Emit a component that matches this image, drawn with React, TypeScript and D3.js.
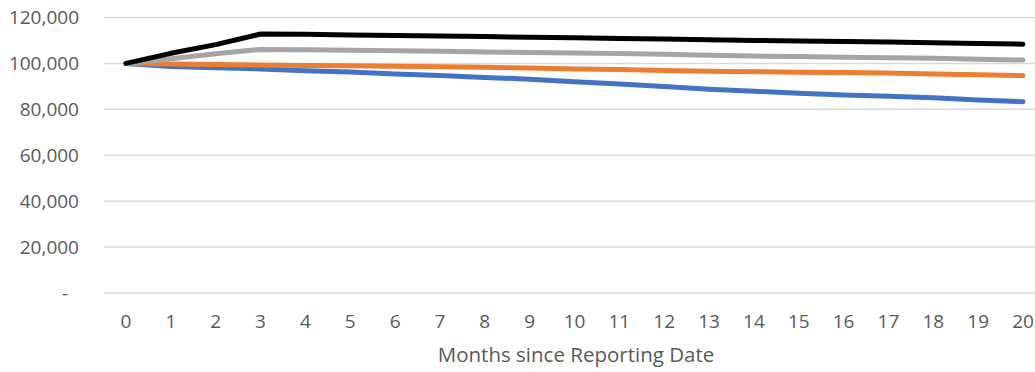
import React from "react";
import * as d3 from "d3";

const months = [0, 1, 2, 3, 4, 5, 6, 7, 8, 9, 10, 11, 12, 13, 14, 15, 16, 17, 18, 19, 20];
const blackSeries = [100000, 104400, 108200, 112800, 112700, 112400, 112200, 111900, 111700, 111400, 111200, 110900, 110600, 110300, 110000, 109800, 109600, 109300, 109000, 108700, 108400];
const graySeries = [100000, 102000, 104200, 106100, 105900, 105700, 105500, 105300, 105000, 104800, 104500, 104300, 104000, 103600, 103200, 103000, 102700, 102500, 102200, 101800, 101500];
const orangeSeries = [100000, 99700, 99500, 99300, 99100, 99000, 98800, 98600, 98300, 98000, 97600, 97300, 96900, 96600, 96400, 96200, 96000, 95800, 95400, 95100, 94700];
const blueSeries = [100000, 98700, 98100, 97600, 96800, 96300, 95400, 94700, 93900, 93100, 92000, 91000, 89900, 88800, 87900, 87000, 86200, 85700, 85000, 84100, 83300];
const yTicks = [0, 20000, 40000, 60000, 80000, 100000, 120000];
const xTitle = "Months since Reporting Date";

const series = [
  { name: "blue", values: blueSeries, color: "#4472C4" },
  { name: "orange", values: orangeSeries, color: "#ED7D31" },
  { name: "gray", values: graySeries, color: "#A5A5A5" },
  { name: "black", values: blackSeries, color: "#000000" },
];

const W = 1035;
const H = 372;
const plotLeft = 104;
const font = "'Open Sans', sans-serif";

export default function App() {
  const x = d3.scaleLinear().domain([0, 20]).range([126, 1023]);
  const y = d3.scaleLinear().domain([0, 120000]).range([293, 17.5]);
  const fmt = d3.format(",");
  const line = d3
    .line<number>()
    .x((_, i) => x(months[i]))
    .y((d) => y(d));

  return (
    <svg
      width={W}
      height={H}
      style={{ position: "absolute", left: 0, top: 0, background: "#fff" }}
      fontFamily={font}
    >
      <rect x={0} y={0} width={W} height={H} fill="#fff" />
      {yTicks.map((t) => (
        <g key={t}>
          <line x1={plotLeft} x2={W} y1={y(t)} y2={y(t)} stroke="#D9D9D9" strokeWidth={1.5} />
          <text
            x={t === 0 ? 68 : 79}
            y={y(t)}
            dy="0.36em"
            textAnchor="end"
            fontSize={19}
            fill="#595959"
          >
            {t === 0 ? "-" : fmt(t)}
          </text>
        </g>
      ))}
      {months.map((m) => (
        <text key={m} x={x(m)} y={328} textAnchor="middle" fontSize={19} fill="#595959">
          {String(m)}
        </text>
      ))}
      <text x={576} y={362} textAnchor="middle" fontSize={20.5} fill="#595959">
        {xTitle}
      </text>
      {series.map((s) => (
        <path
          key={s.name}
          d={line(s.values) || ""}
          fill="none"
          stroke={s.color}
          strokeWidth={5}
          strokeLinecap="round"
          strokeLinejoin="round"
        />
      ))}
    </svg>
  );
}
